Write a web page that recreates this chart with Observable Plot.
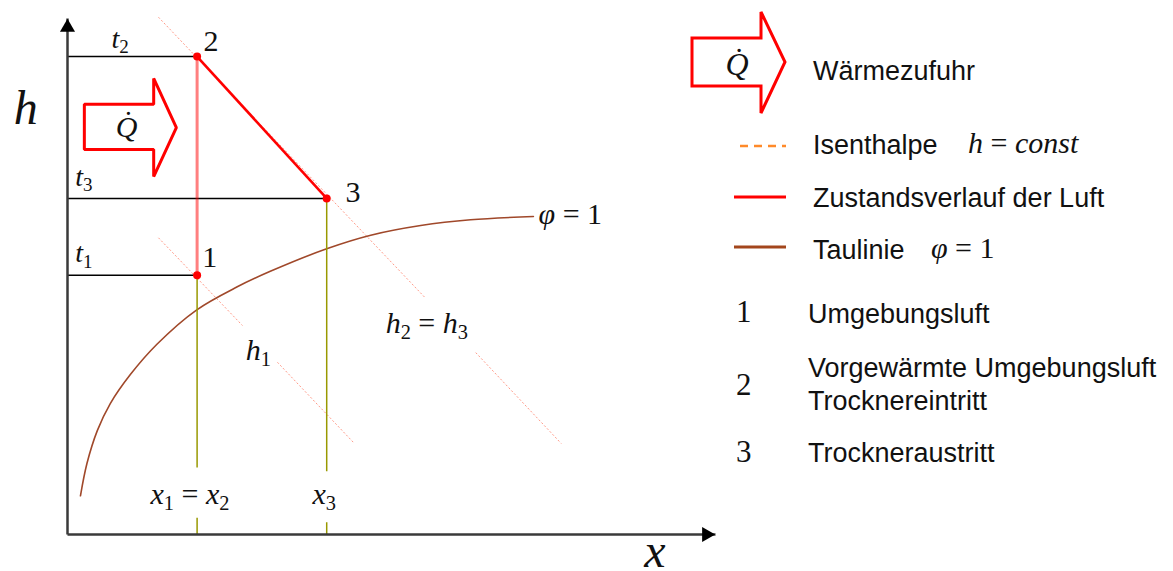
<!DOCTYPE html>
<html>
<head>
<meta charset="utf-8">
<script src="https://cdn.jsdelivr.net/npm/d3@7"></script>
<script src="https://cdn.jsdelivr.net/npm/@observablehq/plot@0.6"></script>
<style>
  body { margin: 0; background: #fff; }
  #chart { width: 1173px; height: 571px; }
  text { white-space: pre; }
</style>
</head>
<body>
<div id="chart"></div>
<script>
// ---------- data (diagram units: x = water content, h = enthalpy) ----------
const axisXmax = 10;
const axisHmax = 8;

// state points of the air
const stateNames = ["1", "2", "3"];
const stateX = [2, 2, 4];
const stateH = [4.02, 7.41, 5.21];
const stateLabelX = [2.08, 2.10, 4.29];
const stateLabelH = [4.14, 7.49, 5.15];

// temperature labels on the horizontal guide lines
const tempLabels = ["t_1", "t_2", "t_3"];
const tempLabelX = [0.12, 0.68, 0.12];
const tempLabelH = [4.22, 7.55, 5.41];

// dew line (Taulinie, phi = 1)
const dewX = [0.20, 0.30, 0.46, 0.66, 0.97, 1.38, 1.99, 2.62, 3.13, 4.00, 4.68, 5.45, 6.22, 7.19];
const dewH = [0.60, 1.10, 1.61, 2.03, 2.48, 2.95, 3.48, 3.84, 4.08, 4.43, 4.64, 4.79, 4.88, 4.93];

// isenthalpes h1 and h2 = h3, each broken around its label
const isenthX1 = [1.404, 3.24, 1.404, 6.30];
const isenthH1 = [4.60, 2.67, 8.02, 2.82];
const isenthX2 = [2.70, 4.41, 5.52, 7.62];
const isenthH2 = [3.24, 1.43, 3.67, 1.41];

// vertical x guides, broken around the x labels
const guideX = [2, 2, 4, 4];
const guideH1 = [4.02, 0.26, 5.21, 0.19];
const guideH2 = [1.04, 0.00, 0.98, 0.00];

// math labels in the diagram
const mathLabels = ["h_1", "h_2 = h_3", "x_1 = x_2", "x_3", "φ = 1"];
const mathLabelX = [2.75, 4.91, 1.28, 3.78, 7.27];
const mathLabelH = [2.70, 3.12, 0.48, 0.48, 4.82];

// axis titles
const axisLabels = ["h", "x"];
const axisLabelX = [-0.83, 8.90];
const axisLabelH = [6.37, -0.50];

// heat supply arrow (outline polygon) and its label
const qArrowX = [0.26, 0.26, 1.33, 1.33, 1.68, 1.33, 1.33, 0.26, 0.26];
const qArrowH = [6.32, 6.67, 6.67, 7.07, 6.31, 5.55, 5.97, 5.97, 6.32];
const qLabel = "Q\u0307";
const qLabelX = 0.91;
const qLabelH = 6.16;

// legend
const legendTexts = ["Wärmezufuhr", "Isenthalpe", "Zustandsverlauf der Luft", "Taulinie"];
const legendMath = ["", "h = const", "", "φ = 1"];
const legendNums = ["1", "2", "3"];
const legendNumTexts = [["Umgebungsluft"], ["Vorgewärmte Umgebungsluft", "Trocknereintritt"], ["Trockneraustritt"]];

// ---------- helpers ----------
const idx = n => d3.range(n);
const SERIF = "Liberation Serif, Times New Roman, serif";
const SANS = "Liberation Sans, Arial, Helvetica, sans-serif";

function rich(node, str) {
  const t = d3.select(node);
  t.text(null);
  const re = /_(\d)|([A-Za-zφ]\u0307?)|([^A-Za-zφ_]+)/gu;
  let m, sub = false;
  while ((m = re.exec(str)) !== null) {
    const ts = t.append("tspan");
    if (m[1] !== undefined) {
      ts.attr("font-size", "0.68em").attr("dy", "0.3em").attr("font-style", "normal").text(m[1]);
      sub = true;
    } else {
      if (sub) { ts.attr("dy", "-0.204em"); sub = false; }
      if (m[2] !== undefined) ts.attr("font-style", "italic").text(m[2]);
      else ts.attr("font-style", "normal").text(m[3]);
    }
  }
}

const red = "#ff0000";
const olive = "#999900";
const brown = "#a0482a";

const textOpts = (fontSize, anchor = "start") => ({
  fontFamily: SERIF, fontSize, textAnchor: anchor, lineAnchor: "bottom", fill: "#111"
});

// ---------- plot ----------
const plot = Plot.plot({
  width: 1173,
  height: 571,
  marginLeft: 67,
  marginRight: 458,
  marginTop: 18,
  marginBottom: 37,
  x: {domain: [0, axisXmax], axis: null},
  y: {domain: [0, axisHmax], axis: null},
  style: {background: "white", overflow: "visible"},
  marks: [
    // isenthalpes
    Plot.link(idx(4), {
      x1: i => isenthX1[i], y1: i => isenthH1[i], x2: i => isenthX2[i], y2: i => isenthH2[i],
      stroke: "#ff9a88", strokeWidth: 1, strokeDasharray: "2,2"
    }),
    // dew line
    Plot.line(idx(dewX.length), {
      x: i => dewX[i], y: i => dewH[i], curve: "catmull-rom", stroke: brown, strokeWidth: 1.6
    }),
    // vertical x guides
    Plot.link(idx(4), {
      x1: i => guideX[i], y1: i => guideH1[i], x2: i => guideX[i], y2: i => guideH2[i],
      stroke: olive, strokeWidth: 1.5
    }),
    // horizontal temperature guides
    Plot.link(idx(3), {
      x1: () => 0, y1: i => stateH[i], x2: i => stateX[i], y2: i => stateH[i],
      stroke: "#000", strokeWidth: 1.4
    }),
    // axes
    Plot.link([0], {x1: () => 0, y1: () => 0, x2: () => 0, y2: () => axisHmax, stroke: "#3a3a3a", strokeWidth: 2.5}),
    Plot.link([0], {x1: () => 0, y1: () => 0, x2: () => axisXmax, y2: () => 0, stroke: "#3a3a3a", strokeWidth: 2.5}),
    Plot.dot([0], {x: () => 0, y: () => axisHmax, symbol: "triangle", r: 5.6, fill: "#000", stroke: "none", dy: 9}),
    Plot.dot([0], {x: () => axisXmax, y: () => 0, symbol: "triangle", r: 5.6, fill: "#000", stroke: "none", rotate: 90, dx: -9}),
    // heating 1 -> 2 (pale) and drying 2 -> 3
    Plot.link([0], {x1: () => stateX[0], y1: () => stateH[0], x2: () => stateX[1], y2: () => stateH[1],
      stroke: red, strokeOpacity: 0.5, strokeWidth: 3}),
    Plot.link([0], {x1: () => stateX[1], y1: () => stateH[1], x2: () => stateX[2], y2: () => stateH[2],
      stroke: red, strokeWidth: 2.6}),
    Plot.dot(idx(3), {x: i => stateX[i], y: i => stateH[i], r: 4, fill: red, stroke: "none"}),
    // heat supply arrow
    Plot.line(idx(qArrowX.length), {x: i => qArrowX[i], y: i => qArrowH[i], stroke: red, strokeWidth: 3, strokeLinejoin: "miter"}),
    Plot.text([qLabel], {x: () => qLabelX, y: () => qLabelH, text: d => d, ...textOpts(30, "middle")}),
    // labels
    Plot.text(idx(3), {x: i => tempLabelX[i], y: i => tempLabelH[i], text: i => tempLabels[i], ...textOpts(28)}),
    Plot.text(idx(3), {x: i => stateLabelX[i], y: i => stateLabelH[i], text: i => stateNames[i], ...textOpts(30)}),
    Plot.text(idx(mathLabels.length), {x: i => mathLabelX[i], y: i => mathLabelH[i], text: i => mathLabels[i], ...textOpts(30)}),
    Plot.text(idx(2), {x: i => axisLabelX[i], y: i => axisLabelH[i], text: i => axisLabels[i], ...textOpts(48)})
  ]
});

d3.select(plot).selectAll('g[aria-label="text"] text').each(function () {
  rich(this, this.textContent);
});

// ---------- legend (drawn into the same svg) ----------
const lg = d3.select(plot).append("g").attr("class", "legend").attr("text-anchor", "start");

// heat supply arrow swatch
lg.append("path")
  .attr("d", "M692,62 V38 H761 V12 L785,62 L761,113 V86 H692 Z")
  .attr("fill", "none").attr("stroke", red).attr("stroke-width", 3).attr("stroke-linejoin", "miter");
lg.append("text").attr("x", 737).attr("y", 75).attr("text-anchor", "middle")
  .attr("font-family", SERIF).attr("font-size", 32).attr("fill", "#111")
  .each(function () { rich(this, qLabel); });

const rowBase = [80, 154, 207, 259];
const swatchY = [null, 146, 197, 247];
// swatches
lg.append("line").attr("x1", 740).attr("x2", 786).attr("y1", swatchY[1]).attr("y2", swatchY[1])
  .attr("stroke", "#ff8a2a").attr("stroke-width", 2.5).attr("stroke-dasharray", "8,6");
lg.append("line").attr("x1", 734).attr("x2", 786).attr("y1", swatchY[2]).attr("y2", swatchY[2])
  .attr("stroke", red).attr("stroke-width", 3);
lg.append("line").attr("x1", 734).attr("x2", 786).attr("y1", swatchY[3]).attr("y2", swatchY[3])
  .attr("stroke", "#a3461c").attr("stroke-width", 3);

legendTexts.forEach((t, i) => {
  lg.append("text").attr("x", 813).attr("y", rowBase[i])
    .attr("font-family", SANS).attr("font-size", 27).attr("fill", "#111").text(t);
});
const mathX = [null, 968, null, 931];
legendMath.forEach((m, i) => {
  if (!m) return;
  lg.append("text").attr("x", mathX[i]).attr("y", rowBase[i] - 1)
    .attr("font-family", SERIF).attr("font-size", 30).attr("fill", "#111")
    .each(function () { rich(this, m); });
});

const numBase = [322, 395, 462];
const numTextBase = [[323], [377, 410], [462]];
legendNums.forEach((n, i) => {
  lg.append("text").attr("x", 736).attr("y", numBase[i])
    .attr("font-family", SERIF).attr("font-size", 31).attr("fill", "#111").text(n);
  legendNumTexts[i].forEach((line, j) => {
    lg.append("text").attr("x", 808).attr("y", numTextBase[i][j])
      .attr("font-family", SANS).attr("font-size", 27).attr("fill", "#111").text(line);
  });
});

document.getElementById("chart").appendChild(plot);
</script>
</body>
</html>
